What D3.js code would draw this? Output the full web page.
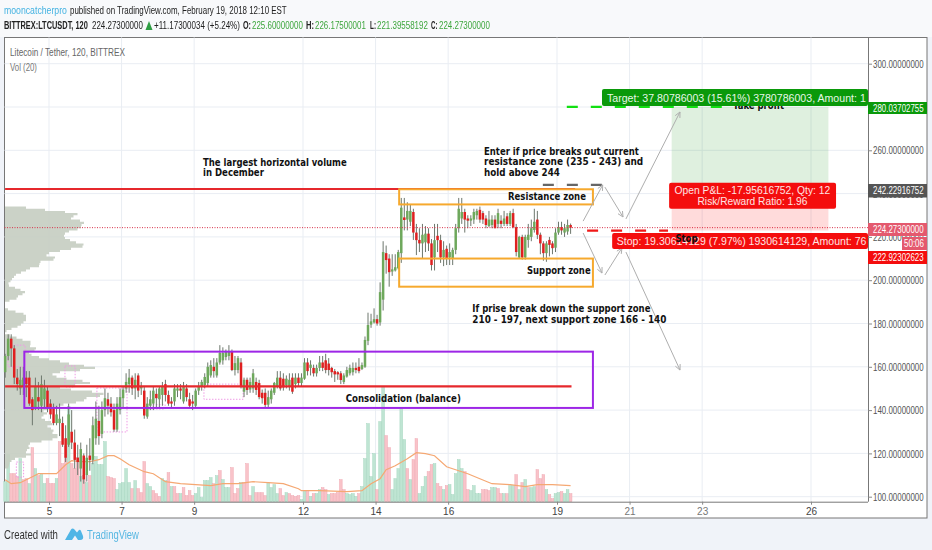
<!DOCTYPE html>
<html>
<head>
<meta charset="utf-8">
<script src="https://cdn.jsdelivr.net/npm/d3@7"></script>
<style>
  html, body { margin: 0; padding: 0; background: #f0f3f9; }
  svg { display: block; filter: blur(0.35px); }
  text { font-family: "Liberation Sans", sans-serif; }
  .note text { font-family: "DejaVu Sans", sans-serif; font-weight: bold; fill: #111; }
</style>
</head>
<body>
<svg id="chart" width="932" height="550"></svg>
<script>
// LTC/USDT 2h candles: [open, high, low, close]
const candles = [
  [157.5,166,155,165],[165,175,163,173],[173,175,160,168.5],[168.5,170,152,155],[155,159,149,152],
  [150,160,147,154],[151,160,147,155],[155,158,146,152],[155,158,142,143],[145,146,133,140],
  [141,155,140,151],[146,153,140,144],[142,156,139,152],[145,154,141,150],[149,151,139,141],
  [143,145,136,138],[141,143,133,134],[134,142,133,138],[134,143,128,136],[134,137,123,124],
  [127,133,116,118],[124,143,123,138],[130,140,122,125],[125,131,113,117],[118,124,110,116],
  [113,125,107,122],[119,120,106,108],[110,124,107,118],[119,127,112,117],[117,137,115,133],
  [127,144,124,136],[135,142,124,128],[129,144,127,140],[140,150,137,145.5],[145,148,138,142],
  [143,146,137,139],[140,143,130,131],[131,146,130,143],[140,150,138,146],[145.5,151,141,149.5],
  [150,157,148,153],[152,159,148,155],[155,156,147,150],[150,157,145,154],[156,157,146,149],
  [150,153,147,151],[149,151,136,137.5],[137,146,136,143],[142,149,140,145],[143,151,140,149],
  [147.5,150,141,145.5],[145,151,141,150],[147,153,142,151],[152,154,144,147],[147,149,142,143],
  [144,146,141,143],[144,152,142,150],[149,152,146,150],[150,152,145,149],[144,153,143,151],
  [150,152,144,146],[145,148,141,142],[144,147,140,143],[142,150,141,149],[149,153,147,151],
  [151,154,149,153],[151.6,157,150,155.3],[152.5,162,151,160],[156,163,155,160.8],[160,164,155,158],
  [156,164,155,162],[162,170,161,166.4],[163,169,161,166.4],[164.5,168,163,166.8],[165,170,163,167],
  [167,168,158,158.5],[158.5,165,156,161.7],[158.5,165,157,164],[162,164,150,150.7],[148.5,155,146,154],
  [154,155,147,149.3],[149.5,155,148,153],[150,159,148,157],[153,155,147,149.3],[152.5,154,145,146],
  [148,149.5,143,145.5],[148,150,141,142.4],[142.5,149,141,146],[145,150,143,149],[148,153,147,152.5],
  [150.7,158,150,155],[155,158,149,150],[154.5,157,149,150.5],[151.5,156,150,154.5],[151,157,149,154],
  [155,157,147.5,148.5],[152,157,150,155],[155,157,151,152.5],[152.5,157,151,155],[154.5,164,154,162],
  [162,164,156,158],[159.5,163,156,161],[159.5,161,155.5,157],[157,161,155.5,159.5],[159.5,165,158,162],
  [162,165,158,159.5],[163,166,157,158.5],[161.5,164,156,158.5],[159.5,160,155,157.5],[158,159,153,156.5],
  [157.5,158,154,156.5],[157,158,152,153.9],[153,157,152,156],[155.5,160,155,158.5],[157,161,156,159.5],
  [157.5,162,156,159.5],[159.5,162,157,158.5],[160,164,157,158],[159,162,158.5,160.8],[160,174,159.5,172.4],
  [172,185,170,179.3],[179.5,184.5,178,181],[180.5,187,180,182],[182,184,179,180],[180.5,199,179,194.5],
  [191,218,186,213],[212.5,216,203,209.3],[210,212,197,203.7],[204,212,202,205],[204.5,212,204,206],
  [205.5,214,205,213],[212.5,238,208,233.5],[229,238,223,227.8],[228,236,223,232],[227,235,225,232],
  [231.5,233,218.6,222],[222,226,211.6,218.5],[218.6,224,213,217],[217,226,210,221],[217.5,225,213,221.5],
  [221.5,224,213.5,217],[217,219,204.5,207],[210.5,226,204.5,218.5],[220.5,226,213,218.5],[218.5,221,208,210.5],
  [210.5,218,206.5,214],[214.5,216,207,210],[210.5,217,207,213],[210,215,207,214],[214,226,212,224],
  [224,238,222,233],[228.5,238,226,231.5],[231.5,233,222,228],[228.5,230,224,227.5],[227.5,230,225,228.5],
  [228,233,226,231.5],[230,233,228,232],[232.5,234,226.5,228],[231,232,226,228],[228.5,230,224,225.5],
  [225,232,224.5,228],[225.5,230,224,228],[228,230,224,224],[226,233,224,231],[227.5,230,224,226],
  [226,232,225,228.5],[229.5,231,225,226],[226,232,225,231],[231,233,224,224.5],[224.5,226,211,213],
  [210.5,220.5,210,220],[220,221,209.5,210.5],[210.5,221,209.5,220],[218.6,226,215,221],[220,228,218,224],
  [223.2,233,222,227],[228,232,219,221],[221,222,212,217],[217,218,209,212.5],[212.5,218,208.5,217],
  [218.6,220,211,216.3],[217,218,212,214.8],[215,224,213,222],[222,227,221,224.5],[224.5,227,221,223],
  [222,226,220,224],[222.5,228,221,225.5],[225.5,226.18,221.4,224.27]
];

// volume per candle and which side it closed on (g / r)
const volume = [
  20,47,28,28,25,43,22,23,18,54, 33,26,28,18,23,18,18,23,60,38,
  55,95,38,33,44,25,26,19,26,38, 45,37,37,60,25,24,23,12,18,19,
  33,19,13,21,13,9,40,18,15,11, 8,5,23,21,29,15,15,8,8,14,
  6,11,6,8,14,4,21,21,24,18, 26,31,22,14,14,34,8,13,19,19,
  38,6,15,9,9,9,6,19,14,17, 8,13,6,9,8,6,5,6,2,11,
  10,5,8,8,12,14,12,7,8,8, 9,22,12,8,7,8,5,8,15,43,
  78,25,48,12,80,115,66,54,12,23, 33,93,62,33,22,42,63,8,15,25,
  30,37,38,18,15,12,16,17,7,28, 42,33,30,12,11,16,8,8,12,12,
  11,14,14,13,8,8,8,16,16,27, 12,19,22,14,14,15,32,23,27,12,
  7,3,8,9,10,8,12,8
];
const volumeSide = ("ggrrrgrrgr" + "grggrrrgrr" + "rgrrrgrgrg" + "ggggrrrggg" + "ggrgrrrggr" +
  "rrggrgrrgr" + "rrrggggggr" + "grgggrrrgr" + "rrgrrrrggg" + "grrgrrrrgg" +
  "rgrggrrgrr" + "rrrggggrgg" + "gggrggrrgg" + "gggrgrrggg" + "rrgrrgrggg" +
  "ggrrggggrr" + "rggrrgrggr" + "grgrggrrrg" + "rrggrggr").split("");

// Vol (20) moving average, read at these candle numbers
const volumeMaIndex = [0,2,5,9,11,15,17,20,22,25,28,31,34,36,38,41,46,49,53,58,63,68,72,77,82,87,92,97,98,104,113,118,121,124,126,129,133,136,139,142,146,149,153,157,161,167,172,176,181,187];
const volumeMa = [22,18,19,25,28,28,28,37,41,40,40,42,46,46,43,37,30,28,20,18,17,16,18,18,20,19,18,13,11,11,10,11,18,23,32,36,43,49,48,46,35,32,28,23,18,17,15,17,17,16];

// horizontal volume profile, one value per price level from 234 down
const profileTop = 234;
const profile = [
  12,30,50,70,75,62,70,80,78,75,77,68,60,60,58,62,68,74,83,72,
  60,50,38,45,55,42,29,40,28,22,20,12,10,8,6,5,2,6,14,17,
  23,12,14,9,0,0,0,0,6,15,22,20,22,20,17,15,10,3,0,0,
  10,13,22,29,22,28,34,25,23,30,38,50,60,68,90,90,60,50,45,58,
  65,90,80,60,50,82,92,105,85,78,80,62,55,52,35,42,42,35,38,42,
  50,45,40,52,45,50,55,50,45,28,22,25,24,20,22,30,12,8,5,4,
  4,3
];

const priceTicks = [100,120,140,160,180,200,220,240,260,280,300];
const dayTicks = [5,7,9,12,14,16,19,21,23,26];

// drawings on the chart, in [day of February, price]
const arrows = [
  [[19.72,227.3],[20.26,244]], [[20.32,243],[20.82,229.2]], [[20.90,228.3],[22.39,277.7]],
  [[19.72,221.8],[20.24,203.3]], [[20.32,202.4],[20.79,214.9]], [[20.90,213],[22.39,158.5]]
];
// [first day, last day, top price, bottom price]
const sessionBoxes = [
  [5.44,5.72,160.4,150.7],[6.32,7.15,150.2,129.9],[7.7,8.2,142.5,140.5],
  [9.27,10.35,152,145],[3.87,4.34,170,160],[4.1,4.3,116,109]
];
const lastPrice = 224.273, entryPrice = 242.22916752, targetPrice = 280.03702755, stopPrice = 222.92302623;

const svg = d3.select("#chart");
const W = 932;

const plotL = 4.5, plotR = 868, plotT = 37.5, plotB = 501.7, frameR = 927, frameB = 518;

function dayToDate(d) { return new Date(Date.UTC(2018, 1, 1) + (d - 1) * 864e5); }

const x = d3.scaleUtc().domain([dayToDate(5), dayToDate(26)]).range([49, 811]);
const y = d3.scaleLinear().domain([100, 300]).range([496.7, 63.7]);
const vol = d3.scaleLinear().domain([0, 115]).range([plotB, plotB - 115]);
const prof = d3.scaleLinear().domain([0, 105]).range([plotL + 0.5, plotL + 105.5]);
const firstCandle = Date.UTC(2018, 1, 3, 19);
function candleDate(i) { return new Date(firstCandle + i * 2 * 36e5); }
function X(d) { return x(dayToDate(d)); }

// page background
svg.append("rect").attr("width", W).attr("height", 37).attr("fill", "#f8f9fb");
svg.append("rect").attr("x", plotL).attr("y", plotT).attr("width", frameR - plotL).attr("height", frameB - plotT)
  .attr("fill", "#fff").attr("stroke", "#777");

svg.append("defs").append("clipPath").attr("id", "plot")
  .append("rect").attr("x", plotL).attr("y", plotT).attr("width", plotR - plotL).attr("height", plotB - plotT);

// grid
const grid = svg.append("g").attr("stroke", "#e9edf3");
grid.selectAll(".v").data(dayTicks).enter().append("line")
  .attr("x1", d => X(d)).attr("x2", d => X(d)).attr("y1", plotT).attr("y2", plotB);
grid.selectAll(".h").data(priceTicks).enter().append("line")
  .attr("x1", plotL).attr("x2", plotR).attr("y1", d => y(d)).attr("y2", d => y(d));

// volume bars
svg.append("g").selectAll("rect").data(volume).enter().append("rect")
  .attr("x", (d, i) => x(candleDate(i)) - 1.35)
  .attr("width", 2.7)
  .attr("y", d => vol(d))
  .attr("height", d => plotB - vol(d))
  .attr("fill", (d, i) => volumeSide[i] == "g" ? "#bfe5d3" : "#f9c3c9")
  .attr("stroke", (d, i) => volumeSide[i] == "g" ? "#a5d6bf" : "#efa9b3")
  .attr("stroke-width", 0.5);

// volume average
svg.append("path")
  .datum(volumeMa)
  .attr("fill", "none").attr("stroke", "#f5a873").attr("stroke-width", 1.2)
  .attr("d", d3.line().x((d, i) => x(candleDate(volumeMaIndex[i]))).y(d => vol(d)));

// horizontal volume profile
svg.append("path")
  .datum(profile)
  .attr("fill", "#c5cdc1").attr("opacity", 0.9)
  .attr("d", d3.area().curve(d3.curveStep)
    .y((d, i) => y(profileTop - i))
    .x0(prof(0))
    .x1(d => prof(d)));

// session boxes
svg.append("g").selectAll("rect").data(sessionBoxes).enter().append("rect")
  .attr("x", d => X(d[0])).attr("y", d => y(d[2]))
  .attr("width", d => X(d[1]) - X(d[0])).attr("height", d => y(d[3]) - y(d[2]))
  .attr("fill", "none").attr("stroke", "#ef9be6").attr("stroke-dasharray", "1.5 1.5");

// candles
const cg = svg.append("g");
cg.selectAll(".wick").data(candles).enter().append("line")
  .attr("x1", (d, i) => x(candleDate(i))).attr("x2", (d, i) => x(candleDate(i)))
  .attr("y1", d => y(d[1])).attr("y2", d => y(d[2]))
  .attr("stroke", "#6d776d").attr("stroke-width", 1);
cg.selectAll(".body").data(candles).enter().append("rect")
  .attr("x", (d, i) => x(candleDate(i)) - 1.25)
  .attr("width", 2.5)
  .attr("y", d => y(Math.max(d[0], d[3])))
  .attr("height", d => Math.max(1.5, Math.abs(y(d[0]) - y(d[3]))))
  .attr("fill", d => d[3] >= d[0] ? "#6ea85c" : "#df2020");

// last price line
svg.append("line").attr("x1", plotL).attr("x2", plotR).attr("y1", y(lastPrice)).attr("y2", y(lastPrice))
  .attr("stroke", "#d8324a").attr("stroke-dasharray", "1 1.5");

// position zones
svg.append("rect").attr("x", X(22.16)).attr("width", X(26.48) - X(22.16))
  .attr("y", y(targetPrice)).attr("height", y(entryPrice) - y(targetPrice))
  .attr("fill", "#0a8a0a").attr("opacity", 0.13);
svg.append("rect").attr("x", X(22.16)).attr("width", X(26.48) - X(22.16))
  .attr("y", y(entryPrice)).attr("height", y(stopPrice) - y(entryPrice))
  .attr("fill", "#f00").attr("opacity", 0.14);

// horizontal drawn lines and zones
const red = "#e6282c", orange = "#f6a92e", purple = "#9d26e6";
svg.append("line").attr("x1", X(3.79)).attr("x2", X(19.5)).attr("y1", y(242.1)).attr("y2", y(242.1))
  .attr("stroke", red).attr("stroke-width", 2);
svg.append("line").attr("x1", X(3.79)).attr("x2", X(19.4)).attr("y1", y(151)).attr("y2", y(151))
  .attr("stroke", red).attr("stroke-width", 2.2);
[[14.65, 19.99, 242, 235, orange], [14.65, 19.99, 210, 197, orange], [4.32, 19.99, 167, 141, purple]].forEach(r => {
  svg.append("rect").attr("x", X(r[0])).attr("y", y(r[2])).attr("width", X(r[1]) - X(r[0])).attr("height", y(r[3]) - y(r[2]))
    .attr("fill", "none").attr("stroke", r[4]).attr("stroke-width", 2);
});

// dashes
[[18.61, 20.32, 244, "#666"], [19.27, 23.63, targetPrice, "#12e012"], [19.83, 22.06, stopPrice, "#f01818"]].forEach(l => {
  svg.append("line").attr("x1", X(l[0])).attr("x2", X(l[1])).attr("y1", y(l[2])).attr("y2", y(l[2]))
    .attr("stroke", l[3]).attr("stroke-width", 2.2).attr("stroke-dasharray", "11 13");
});

// arrows
svg.append("g").selectAll("g").data(arrows).enter().append("path")
  .attr("fill", "none").attr("stroke", "#aeaeae").attr("stroke-width", 1)
  .attr("d", d => {
    const x0 = X(d[0][0]), y0 = y(d[0][1]), x1 = X(d[1][0]), y1 = y(d[1][1]);
    const a = Math.atan2(y1 - y0, x1 - x0), h = 6;
    return `M${x0},${y0}L${x1},${y1}` +
      `M${x1 - h * Math.cos(a - 0.45)},${y1 - h * Math.sin(a - 0.45)}L${x1},${y1}L${x1 - h * Math.cos(a + 0.45)},${y1 - h * Math.sin(a + 0.45)}`;
  });

// squeeze a text sideways so it takes the width it has in the picture
function squeeze(t, left, base, width) {
  const natural = t.node().getComputedTextLength();
  t.attr("x", 0).attr("y", 0).attr("transform", `translate(${left},${base}) scale(${width / natural},1)`);
}
function label(parent, left, mid, str, width, size, fill, weight) {
  const t = parent.append("text").attr("font-size", size).attr("fill", fill).text(str);
  if (weight) t.attr("font-weight", weight);
  squeeze(t, left, mid + size * 0.36, width);
  return t;
}

// chart notes
const notes = svg.append("g").attr("class", "note");
[
  ["The largest horizontal volume", 203, 162, 144],
  ["in December", 203, 172.5, 61],
  ["Enter if price breaks out current", 484, 151, 155],
  ["resistance zone (235 - 243) and", 484, 161.7, 159.5],
  ["hold above 244", 484, 172.7, 76],
  ["Resistance zone", 508, 196.7, 78],
  ["Support zone", 527, 270.7, 63.7],
  ["If prise break down the support zone", 472.3, 308.3, 178.4],
  ["210 - 197, next support zone 166 - 140", 472.3, 319, 194.4],
  ["Consolidation (balance)", 345.7, 398, 115.3],
  ["Take profit", 733, 105, 51]
].forEach(n => label(notes, n[1], n[2], n[0], n[3], 10, "#111"));

// trade labels, clipped at the price axis
const tradeLabels = svg.append("g");
function tradeBox(x0, x1, top, h, fill) {
  tradeLabels.append("rect").attr("x", x0).attr("y", top).attr("width", x1 - x0).attr("height", h)
    .attr("rx", 2).attr("fill", fill);
}
tradeBox(X(20.24), plotR, 89, 17, "#0a990a");
tradeBox(X(20.52), plotR, 233, 16, "#f40d0d");
tradeBox(X(22.09), X(26.69), 182.7, 26, "#f40d0d");

label(tradeLabels, 607, 97.8, "Target: 37.80786003 (15.61%) 3780786003, Amount: 1", 259, 10.5, "#e8f7e8");
label(tradeLabels, 616.7, 241, "Stop: 19.30614129 (7.97%) 1930614129, Amount: 76", 250, 10.5, "#ffe4e4");
label(tradeLabels, 674.5, 190.7, "Open P&L: -17.95616752, Qty: 12", 156, 10.5, "#ffe4e4");
label(tradeLabels, 697.5, 201, "Risk/Reward Ratio: 1.96", 110, 10.5, "#ffe4e4");
const topNotes = svg.append("g").attr("class", "note");
label(topNotes, 675.5, 238, "Stop", 22, 10, "#111");

// axes
const yAxis = d3.axisRight(y).tickValues(priceTicks).tickSize(4).tickPadding(1).tickFormat(d3.format(".8f"));
const yg = svg.append("g").attr("transform", `translate(${plotR},0)`).call(yAxis);
yg.select(".domain").attr("stroke", "#777").attr("d", `M0.5,${plotT}V${plotB}`);
yg.selectAll("line").attr("stroke", "#888");
yg.selectAll(".tick text").attr("font-size", 10).attr("fill", "#555")
  .each(function () {
    const t = d3.select(this);
    t.attr("dy", null);
    squeeze(t, 5, 3.6, 50.7);
  });

const xAxis = d3.axisBottom(x).tickValues(dayTicks.map(dayToDate)).tickSize(3).tickPadding(3).tickFormat(d3.utcFormat("%-d"));
const xg = svg.append("g").attr("transform", `translate(0,${plotB})`).call(xAxis);
xg.select(".domain").attr("stroke", "#777").attr("d", `M${plotL},0.5H${plotR}`);
xg.selectAll("line").attr("stroke", "#888");
xg.selectAll("text").attr("font-size", 10).attr("fill", (d) => (d.getUTCDate() == 21 || d.getUTCDate() == 23) ? "#777" : "#444");

// axis price tags
function priceTag(top, h, fill, str, colour) {
  svg.append("rect").attr("x", plotR).attr("y", top).attr("width", frameR - plotR).attr("height", h).attr("fill", fill);
  label(svg, 873, top + h / 2, str, 50.7, 10, colour);
}
priceTag(102, 12, "#0a990a", "280.03702755", "#fff");
priceTag(184, 13.5, "#555", "242.22916752", "#fff");
priceTag(223, 13, "#e4596e", "224.27300000", "#fff");
priceTag(251, 13, "#f40d0d", "222.92302623", "#fff");
svg.append("rect").attr("x", 902).attr("y", 237).attr("width", frameR - 902).attr("height", 13).attr("fill", "#e4596e");
label(svg, 904, 243.5, "50:06", 20, 10, "#fff");

// header
const blue = "#45b3e2", dark = "#222", up = "#3ea63e";
label(svg, 4, 10, "mooncatcherpro", 63, 11.5, blue);
label(svg, 70, 10, "published on TradingView.com, February 19, 2018 12:10 EST", 217, 11.5, dark);
label(svg, 4, 25, "BITTREX:LTCUSDT, 120", 84, 11.5, dark, "bold");
label(svg, 92, 25, "224.27300000", 51, 11.5, dark);
svg.append("path").attr("d", "M149,21L152.5,30H145.5Z").attr("fill", "#2f9e44");
label(svg, 154, 25, "+11.17300034 (+5.24%)", 86, 11.5, dark);
[["O:", 243, 8, "225.60000000", 252], ["H:", 306, 8, "226.17500001", 315], ["L:", 370, 6, "221.39558192", 377], ["C:", 431, 6.5, "224.27300000", 439]].forEach(h => {
  label(svg, h[1], 25, h[0], h[2], 11.5, dark, "bold");
  label(svg, h[4], 25, h[3], 51, 11.5, up);
});
label(svg, 10, 52, "Litecoin / Tether, 120, BITTREX", 115, 11.5, "#666");
label(svg, 10, 67, "Vol (20)", 27, 11.5, "#777");

// footer
label(svg, 4, 535, "Created with", 54, 12, "#333");
svg.append("path").attr("fill", "#4fb5e6")
  .attr("d", "M65,540L71,529.5Q72.5,527.5 74.5,529.5L77,532.5L78.5,530.5Q80,529 81,531L83,536Q84,540 80,540H78L75,535.5L72,540Z");
label(svg, 87, 535, "TradingView", 52, 12, "#58b7e2");
</script>
</body>
</html>
